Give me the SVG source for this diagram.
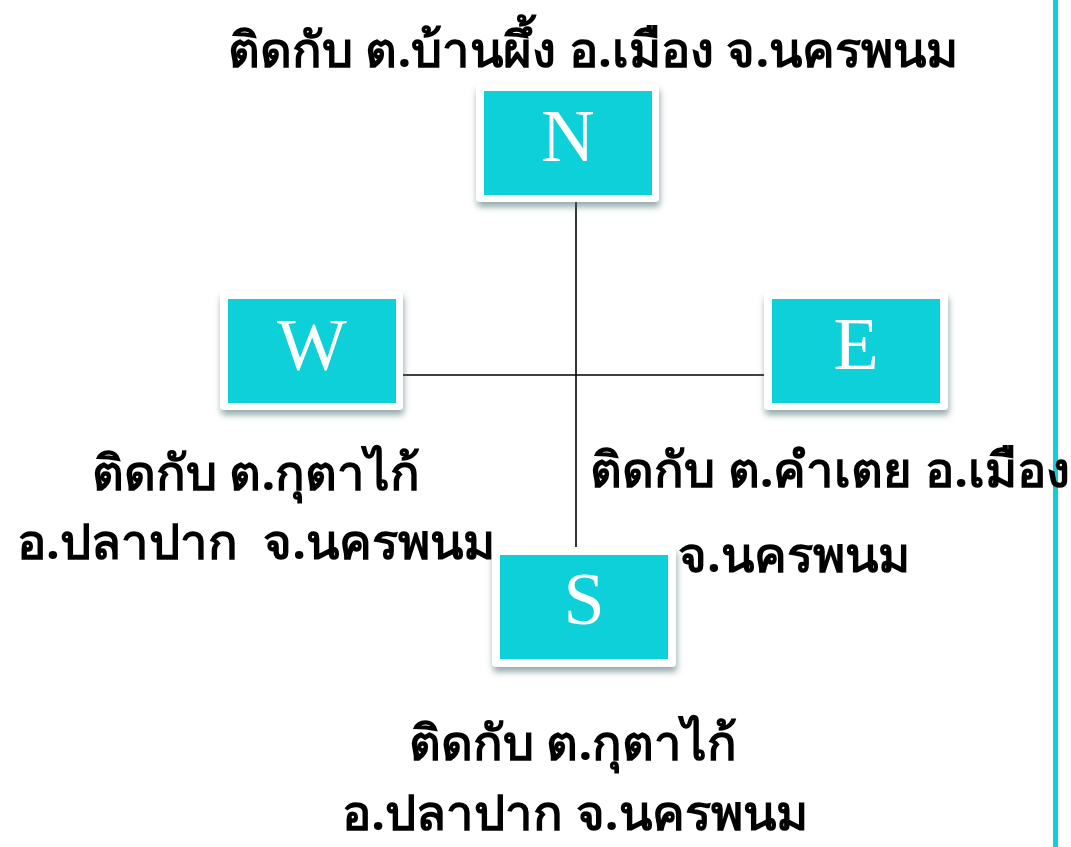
<svg xmlns="http://www.w3.org/2000/svg" width="1071" height="847" viewBox="0 0 1071 847">
  <defs>
    <filter id="sh" x="-10%" y="-10%" width="125%" height="135%">
      <feDropShadow dx="1" dy="5" stdDeviation="3" flood-color="#3f666b" flood-opacity="0.55"/>
    </filter>
  </defs>
  <style>
    .frame { fill: #ffffff; filter: url(#sh); }
    .face { fill: #0ed0d8; }
    .dir { font-family: "Liberation Serif", "DejaVu Serif", serif; font-size: 74px; fill: #ffffff; text-anchor: middle; }
    .lbl { font-family: "Noto Sans", "DejaVu Sans", sans-serif; font-weight: bold; font-size: 49px; fill: #000000; text-anchor: middle; white-space: pre; }
    .conn { stroke: #000000; stroke-width: 1.6; fill: none; }
  </style>
  <rect x="0" y="0" width="1071" height="847" fill="#ffffff"/>
  <rect x="1053" y="0" width="5" height="847" fill="#0ed0d8"/>
  <g id="connectors">
    <line class="conn" x1="576" y1="202" x2="576" y2="547"/>
    <line class="conn" x1="403" y1="375" x2="764" y2="375"/>
  </g>
  <g id="node-N">
    <rect class="frame" x="476" y="84" width="183" height="118" rx="4"/>
    <rect class="face" x="484" y="91" width="168" height="104"/>
    <text class="dir" x="568" y="161">N</text>
  </g>
  <g id="node-W">
    <rect class="frame" x="220" y="291" width="183" height="119" rx="4"/>
    <rect class="face" x="228" y="299" width="168" height="104"/>
    <text class="dir" x="312" y="370">W</text>
  </g>
  <g id="node-E">
    <rect class="frame" x="764" y="292" width="184" height="118" rx="4"/>
    <rect class="face" x="772" y="299" width="168" height="104"/>
    <text class="dir" x="856" y="369">E</text>
  </g>
  <g id="node-S">
    <rect class="frame" x="492" y="547" width="184" height="120" rx="4"/>
    <rect class="face" x="500" y="555" width="168" height="104"/>
    <text class="dir" x="584" y="624">S</text>
  </g>
  <g id="labels">
    <text class="lbl" x="593" y="67">ติดกับ ต.บ้านผึ้ง อ.เมือง จ.นครพนม</text>
    <text class="lbl" x="256" y="490">ติดกับ ต.กุตาไก้</text>
    <text class="lbl" x="256" y="559" xml:space="preserve">อ.ปลาปาก  จ.นครพนม</text>
    <text class="lbl" x="830" y="487">ติดกับ ต.คำเตย อ.เมือง</text>
    <text class="lbl" x="794" y="572">จ.นครพนม</text>
    <text class="lbl" x="573" y="760">ติดกับ ต.กุตาไก้</text>
    <text class="lbl" x="575" y="830">อ.ปลาปาก จ.นครพนม</text>
  </g>
</svg>
